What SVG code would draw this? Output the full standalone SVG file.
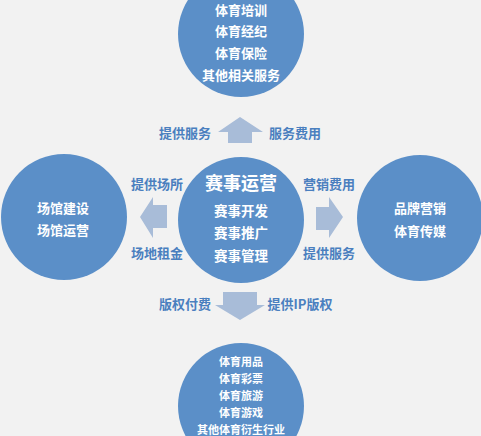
<svg xmlns="http://www.w3.org/2000/svg" width="481" height="436" viewBox="0 0 481 436">
<style>
.c{fill:#5b8fc8;}
.t{fill:#ffffff;font-family:"Noto Sans CJK SC","Liberation Sans",sans-serif;font-weight:bold;text-anchor:middle;dominant-baseline:central;}
.l{fill:#4a7fbf;font-family:"Noto Sans CJK SC","Liberation Sans",sans-serif;font-weight:bold;font-size:13px;text-anchor:middle;dominant-baseline:central;}
.a{fill:#a8bcd8;}
</style>
<rect width="481" height="436" fill="#f2f2f2"/>
<g id="top">
<circle class="c" cx="241" cy="34" r="63"/>
<text class="t" font-size="13" x="241" y="9">体育培训</text>
<text class="t" font-size="13" x="241" y="30">体育经纪</text>
<text class="t" font-size="13" x="241" y="52">体育保险</text>
<text class="t" font-size="13" x="241" y="74">其他相关服务</text>
</g>
<g id="center">
<circle class="c" cx="241" cy="220" r="63"/>
<text class="t" font-size="18" x="241" y="182">赛事运营</text>
<text class="t" font-size="13.5" x="241" y="210">赛事开发</text>
<text class="t" font-size="13.5" x="241" y="232">赛事推广</text>
<text class="t" font-size="13.5" x="241" y="255">赛事管理</text>
</g>
<g id="left">
<circle class="c" cx="64" cy="217" r="63"/>
<text class="t" font-size="13" x="63" y="207">场馆建设</text>
<text class="t" font-size="13" x="63" y="229">场馆运营</text>
</g>
<g id="right">
<circle class="c" cx="420" cy="218" r="63"/>
<text class="t" font-size="13" x="420" y="207">品牌营销</text>
<text class="t" font-size="13" x="420" y="230">体育传媒</text>
</g>
<g id="bottom">
<circle class="c" cx="241" cy="406" r="63"/>
<text class="t" font-size="11" x="241" y="361">体育用品</text>
<text class="t" font-size="11" x="241" y="378">体育彩票</text>
<text class="t" font-size="11" x="241" y="395">体育旅游</text>
<text class="t" font-size="11" x="241" y="412">体育游戏</text>
<text class="t" font-size="11" x="241" y="428.5">其他体育衍生行业</text>
</g>
<g id="connectors">
<polygon class="a" points="240,117 263,132 252,132 252,143 228,143 228,132 218,132"/>
<polygon class="a" points="223,292 257,292 257,305 265,305 240,320 215,305 223,305"/>
<polygon class="a" points="140,217 153,197 153,205 167,205 167,228 153,228 153,238"/>
<polygon class="a" points="343,217 329,197 329,207 316,207 316,230 329,230 329,238"/>
<text class="l" x="185" y="132">提供服务</text>
<text class="l" x="295" y="132">服务费用</text>
<text class="l" x="185" y="303">版权付费</text>
<text class="l" x="300" y="303">提供IP版权</text>
<text class="l" x="157" y="183">提供场所</text>
<text class="l" x="157" y="252">场地租金</text>
<text class="l" x="329" y="183">营销费用</text>
<text class="l" x="329" y="252">提供服务</text>
</g>
</svg>
